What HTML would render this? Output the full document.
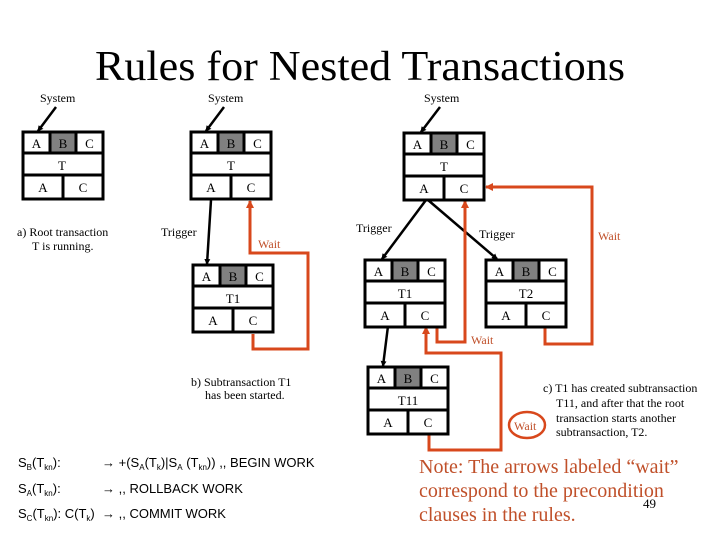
<!DOCTYPE html>
<html><head><meta charset="utf-8"><style>
html,body{margin:0;padding:0;background:#fff;}
svg{display:block;}
text{font-family:"Liberation Serif",serif;}
</style></head><body>
<svg width="720" height="540" viewBox="0 0 720 540" xmlns="http://www.w3.org/2000/svg">
<defs>
<g id="box">
<rect x="0" y="0" width="80" height="67" fill="#fff"/>
<rect x="27" y="0" width="26" height="21" fill="#808080"/>
<g stroke="#000" stroke-width="3" fill="none">
<rect x="0" y="0" width="80" height="67"/>
<line x1="0" y1="21" x2="80" y2="21"/><line x1="0" y1="43" x2="80" y2="43"/>
<line x1="27" y1="0" x2="27" y2="21"/><line x1="53" y1="0" x2="53" y2="21"/>
<line x1="40" y1="43" x2="40" y2="67"/>
</g>
<g font-size="13" text-anchor="middle" fill="#000">
<text x="13.5" y="16">A</text><text x="40" y="16">B</text><text x="66.5" y="16">C</text>
<text x="20" y="60">A</text><text x="60" y="60">C</text>
</g>
</g>
<marker id="ab" markerWidth="6" markerHeight="6" refX="5" refY="3" orient="auto" markerUnits="userSpaceOnUse"><path d="M0,0 L6,3 L0,6 z" fill="#000"/></marker>
<marker id="ar" markerWidth="8" markerHeight="8" refX="7" refY="4" orient="auto" markerUnits="userSpaceOnUse"><path d="M0,0 L8,4 L0,8 z" fill="#d8481c"/></marker>
</defs>

<text x="360" y="80" font-size="42" text-anchor="middle" textLength="530" lengthAdjust="spacingAndGlyphs">Rules for Nested Transactions</text>

<g font-size="12">
<text x="40" y="102">System</text>
<text x="208" y="102">System</text>
<text x="424" y="102">System</text>
</g>
<g stroke="#000" stroke-width="2.5" fill="none">
<line x1="56" y1="107" x2="38" y2="131" marker-end="url(#ab)"/>
<line x1="224" y1="107" x2="206" y2="131" marker-end="url(#ab)"/>
<line x1="440" y1="107" x2="421" y2="132" marker-end="url(#ab)"/>
<line x1="211" y1="200" x2="207" y2="264" marker-end="url(#ab)"/>
<line x1="426" y1="200" x2="382" y2="259" marker-end="url(#ab)"/>
<line x1="428" y1="200" x2="497" y2="259" marker-end="url(#ab)"/>
<line x1="388" y1="326" x2="383" y2="366" marker-end="url(#ab)"/>
</g>

<g stroke="#d8481c" stroke-width="3" fill="none">
<polyline points="253,334 253,349 308,349 308,253 250,253 250,201" marker-end="url(#ar)"/>
<polyline points="437,326 437,342 465,342 465,201" marker-end="url(#ar)"/>
<polyline points="545,326 545,344 592,344 592,187 486,187" marker-end="url(#ar)"/>
<polyline points="429,434 429,450 501,450 501,353 426,353 426,327" marker-end="url(#ar)"/>
</g>

<use href="#box" x="23" y="132"/>
<text x="62" y="170" font-size="13" text-anchor="middle">T</text>
<use href="#box" x="191" y="132"/>
<text x="231" y="170" font-size="13" text-anchor="middle">T</text>
<use href="#box" x="193" y="265"/>
<text x="233" y="303" font-size="13" text-anchor="middle">T1</text>
<use href="#box" x="404" y="133"/>
<text x="444" y="171" font-size="13" text-anchor="middle">T</text>
<use href="#box" x="365" y="260"/>
<text x="405" y="298" font-size="13" text-anchor="middle">T1</text>
<use href="#box" x="486" y="260"/>
<text x="526" y="298" font-size="13" text-anchor="middle">T2</text>
<use href="#box" x="368" y="367"/>
<text x="408" y="405" font-size="13" text-anchor="middle">T11</text>

<g font-size="12">
<text x="17" y="236">a) Root transaction</text>
<text x="32" y="250">T is running.</text>
<text x="161" y="236">Trigger</text>
<text x="356" y="232">Trigger</text>
<text x="479" y="238">Trigger</text>
<text x="191" y="386">b) Subtransaction T1</text>
<text x="205" y="399">has been started.</text>
<text x="543" y="392">c) T1 has created subtransaction</text>
<text x="556" y="407">T11, and after that the root</text>
<text x="556" y="422">transaction starts another</text>
<text x="556" y="436">subtransaction, T2.</text>
</g>
<g font-size="12" fill="#c0502a">
<text x="258" y="248">Wait</text>
<text x="598" y="240">Wait</text>
<text x="471" y="344">Wait</text>
<text x="514" y="430">Wait</text>
</g>
<ellipse cx="527" cy="425" rx="18" ry="13" fill="none" stroke="#d8481c" stroke-width="2.5"/>

<g font-size="13" fill="#000">
<text x="18" y="467" style="font-family:'Liberation Sans',sans-serif">S<tspan font-size="8" dy="3">B</tspan><tspan dy="-3">(T</tspan><tspan font-size="8" dy="3">kn</tspan><tspan dy="-3">):</tspan></text>
<text x="102" y="467" style="font-family:'Liberation Sans',sans-serif">→ +(S<tspan font-size="8" dy="3">A</tspan><tspan dy="-3">(T</tspan><tspan font-size="8" dy="3">k</tspan><tspan dy="-3">)|S</tspan><tspan font-size="8" dy="3">A</tspan><tspan dy="-3"> (T</tspan><tspan font-size="8" dy="3">kn</tspan><tspan dy="-3">)) ,, BEGIN WORK</tspan></text>
<text x="18" y="493" style="font-family:'Liberation Sans',sans-serif">S<tspan font-size="8" dy="3">A</tspan><tspan dy="-3">(T</tspan><tspan font-size="8" dy="3">kn</tspan><tspan dy="-3">):</tspan></text>
<text x="102" y="493" style="font-family:'Liberation Sans',sans-serif">→ ,, ROLLBACK WORK</text>
<text x="18" y="518" style="font-family:'Liberation Sans',sans-serif">S<tspan font-size="8" dy="3">C</tspan><tspan dy="-3">(T</tspan><tspan font-size="8" dy="3">kn</tspan><tspan dy="-3">): C(T</tspan><tspan font-size="8" dy="3">k</tspan><tspan dy="-3">)</tspan></text>
<text x="102" y="518" style="font-family:'Liberation Sans',sans-serif">→ ,, COMMIT WORK</text>
</g>

<g font-size="20" fill="#c0502a">
<text x="419" y="473">Note: The arrows labeled “wait”</text>
<text x="419" y="497">correspond to the precondition</text>
<text x="419" y="521">clauses in the rules.</text>
</g>
<text x="643" y="508" font-size="13">49</text>
</svg>
</body></html>
